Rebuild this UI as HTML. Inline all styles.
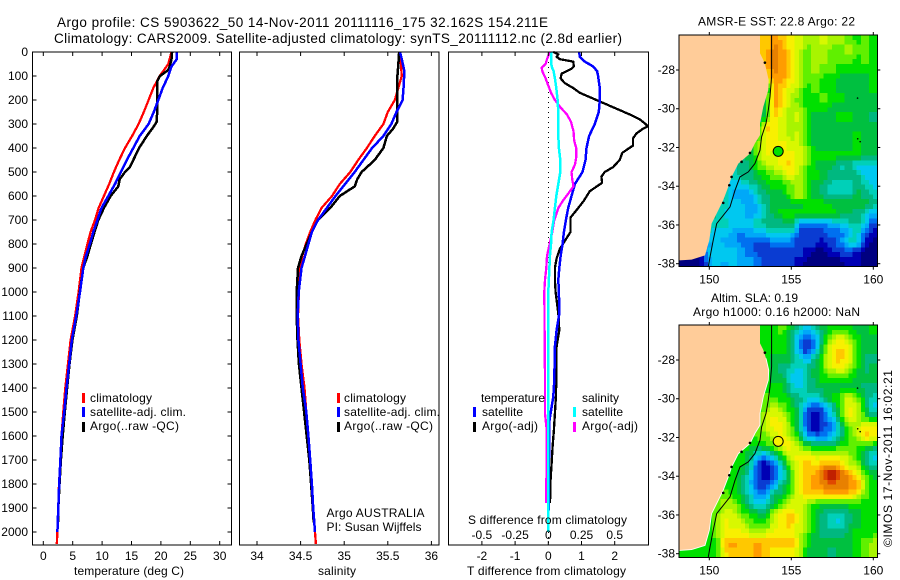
<!DOCTYPE html>
<html lang="en">
<head>
<meta charset="utf-8">
<title>Argo profile chart</title>
<style>
html,body{margin:0;padding:0;background:#fff;}
svg{display:block;}
text{font-family:"Liberation Sans",sans-serif;font-size:12px;fill:#000;}
</style>
</head>
<body>
<svg id="chart" width="900" height="580" viewBox="0 0 900 580" xmlns="http://www.w3.org/2000/svg">
  <text x="57" y="27" style="font-size:13.5px" textLength="491">Argo profile: CS 5903622_50 14-Nov-2011 20111116_175 32.162S 154.211E</text>
  <text x="54" y="43" style="font-size:13.5px" textLength="568">Climatology: CARS2009. Satellite-adjusted climatology: synTS_20111112.nc (2.8d earlier)</text>
  <g id="plots"></g>

  <text x="74" y="575" textLength="110">temperature (deg C)</text>
  <text x="318" y="575" textLength="38">salinity</text>
  <text x="467" y="575" textLength="159">T difference from climatology</text>
  <text x="468" y="524" textLength="159">S difference from climatology</text>

  <g>
    <rect x="82" y="393" width="3" height="10" fill="#ff0000"/>
    <rect x="82" y="407" width="3" height="10" fill="#0000ff"/>
    <rect x="82" y="422" width="3" height="10" fill="#000"/>
    <text x="90" y="402" textLength="62">climatology</text>
    <text x="90" y="416" textLength="96">satellite-adj. clim.</text>
    <text x="90" y="430" textLength="89">Argo(..raw -QC)</text>
  </g>
  <g>
    <rect x="337" y="393" width="3" height="10" fill="#ff0000"/>
    <rect x="337" y="407" width="3" height="10" fill="#0000ff"/>
    <rect x="337" y="422" width="3" height="10" fill="#000"/>
    <text x="344" y="402" textLength="62">climatology</text>
    <text x="344" y="416" textLength="96">satellite-adj. clim.</text>
    <text x="344" y="430" textLength="89">Argo(..raw -QC)</text>
  </g>
  <text x="326.5" y="517" textLength="98">Argo AUSTRALIA</text>
  <text x="326.5" y="531" textLength="95">PI: Susan Wijffels</text>

  <g>
    <text x="481" y="402" textLength="64">temperature</text>
    <rect x="473" y="407" width="3" height="10" fill="#0000ff"/>
    <rect x="473" y="422" width="3" height="10" fill="#000"/>
    <text x="482" y="416" textLength="41">satellite</text>
    <text x="482" y="430" textLength="56">Argo(-adj)</text>
    <text x="582" y="402" textLength="37">salinity</text>
    <rect x="573" y="407" width="3" height="10" fill="#00ffff"/>
    <rect x="573" y="422" width="3" height="10" fill="#ff00ff"/>
    <text x="582" y="416" textLength="41">satellite</text>
    <text x="582" y="430" textLength="56">Argo(-adj)</text>
  </g>

  <text x="698" y="25.5" textLength="157">AMSR-E SST: 22.8 Argo: 22</text>
  <text x="711" y="302" textLength="87">Altim. SLA: 0.19</text>
  <text x="693" y="316" textLength="167">Argo h1000: 0.16 h2000: NaN</text>
  <text transform="translate(892,547) rotate(-90)" textLength="177">©IMOS 17-Nov-2011 16:02:21</text>
</svg>

<script>
/* ---------- axis tick values ---------- */
const depthTicks = [0,100,200,300,400,500,600,700,800,900,1000,1100,1200,1300,1400,1500,1600,1700,1800,1900,2000];
const temperatureTicks = [0,5,10,15,20,25,30];
const salinityTicks = [34,34.5,35,35.5,36];
const salinityTickLabels = ["34","34.5","35","35.5","36"];
const tDiffTicks = [-2,-1,0,1,2];
const sDiffTicks = [-0.5,-0.25,0,0.25,0.5];
const sDiffTickLabels = ["-0.5","-0.25","0","0.25","0.5"];
const lonTicks = [150,155,160];
const latTicks = [28,30,32,34,36,38];

/* ---------- temperature and salinity profiles ---------- */
const climDepths = [0,50,100,150,200,250,300,350,400,450,500,550,600,650,700,750,800,850,900,1000,1100,1200,1300,1400,1500,1600,1700,1800,1900,2000,2050];
const climTemperature = [21.8,21.25,19.8,18.7,17.9,17.1,16.2,15.1,13.9,12.9,12.0,11.2,10.3,9.4,8.8,8.05,7.5,7.0,6.5,6.0,5.4,4.65,4.2,3.75,3.4,3.1,2.9,2.67,2.55,2.4,2.3];
const climSalinity = [35.63,35.65,35.66,35.62,35.58,35.5,35.45,35.35,35.26,35.16,35.07,34.95,34.86,34.74,34.67,34.61,34.56,34.52,34.49,34.48,34.47,34.485,34.51,34.545,34.565,34.59,34.61,34.63,34.645,34.665,34.675];

const satDepths = [0,30,60,100,150,200,250,300,350,400,450,500,550,600,650,700,750,800,850,900,1000,1100,1200,1300,1400,1500,1600,1700,1800,1900,2000];
const satTemperature = [22.7,22.7,21.8,21.25,20.3,19.55,18.8,17.9,16.4,15.3,14.2,13.2,12.2,11.05,9.9,9.2,8.5,7.9,7.25,6.8,6.24,5.6,4.85,4.4,3.95,3.55,3.1,2.9,2.7,2.55,2.4];
const satSalinityDepths = [0,30,80,150,200,250,300,350,400,450,500,550,600,650,700,750,800,850,900,1000,1100,1200,1300,1400,1500,1600,1700,1800,1900,2000];
const satSalinity = [35.64,35.66,35.69,35.68,35.67,35.6,35.54,35.45,35.32,35.22,35.12,35.01,34.9,34.8,34.7,34.63,34.59,34.55,34.51,34.478,34.467,34.475,34.5,34.525,34.565,34.59,34.61,34.63,34.645,34.665];

const argoTempDepths = [0,30,60,75,100,120,150,250,290,310,350,400,450,480,500,530,560,600,650,700,750,800,850,900,1000,1100,1200,1300,1400,1500,1600,1700,1800,1900,1960];
const argoTemperature = [21.9,21.8,21.5,21.25,19.85,19.4,19.4,19.35,19.3,18.8,17.6,16.3,15.3,14.7,13.9,13.0,12.75,11.45,10.3,9.35,8.7,8.1,7.5,6.8,6.2,5.7,4.95,4.45,4.05,3.65,3.3,3.0,2.75,2.55,2.5];
const argoSalDepths = [0,55,100,200,290,320,350,400,450,480,500,530,560,600,650,700,750,800,850,900,1000,1100,1200,1300,1400,1500,1600,1700,1800,1900,1960];
const argoSalinity = [35.63,35.62,35.61,35.61,35.61,35.56,35.49,35.45,35.35,35.26,35.2,35.15,35.12,34.95,34.84,34.7,34.63,34.57,34.51,34.47,34.455,34.455,34.465,34.48,34.51,34.54,34.57,34.6,34.62,34.64,34.65];

/* ---------- differences from climatology ---------- */
const tSatDepths = [0,20,40,60,80,100,150,200,250,300,350,400,450,500,550,600,650,700,750,800,850,900,950,1000,1089,1160,1228,1367,1436,1506,1540,1700,2000];
const tSatDiff = [0.93,0.95,1.1,1.35,1.47,1.5,1.55,1.55,1.52,1.4,1.23,1.15,1.12,1.03,0.8,0.7,0.6,0.53,0.47,0.43,0.37,0.33,0.3,0.32,0.33,0.25,0.2,0.18,0.15,0.07,0.03,0.02,0];
const tArgoDepths = [0,10,20,30,40,60,70,90,110,130,150,170,200,230,260,280,300,310,320,340,360,390,420,450,480,500,520,545,580,620,650,690,720,750,780,820,860,900,950,1000,1089,1160,1228,1367,1436,1506,1575,1644,1714,1783,1880];
const tArgoDiff = [0.15,0.3,0.25,0.35,0.75,0.77,0.7,0.4,0.37,0.5,0.75,0.95,1.45,1.95,2.45,2.75,2.93,3,2.85,2.65,2.55,2.55,2.23,2.15,1.95,1.7,1.6,1.62,1.25,1.07,0.9,0.67,0.67,0.67,0.53,0.35,0.25,0.2,0.2,0.22,0.3,0.33,0.25,0.24,0.23,0.2,0.17,0.13,0.1,0.07,0.05];
const sSatDepths = [0,30,60,80,110,150,200,250,300,350,400,450,500,550,600,650,700,750,800,850,900,1000,1400,1600,2000];
const sSatDiff = [0.025,0.02,0.025,0.04,0.05,0.06,0.07,0.075,0.075,0.075,0.08,0.09,0.09,0.075,0.06,0.05,0.04,0.025,0.02,0.012,0.008,0,0,0,0];
const sArgoDepths = [0,30,50,65,80,110,140,170,200,230,260,290,330,370,400,440,470,500,530,560,590,620,650,700,750,800,850,900,950,1000,1367,1506,1575,1714,1880];
const sArgoDiff = [0.012,-0.01,-0.02,-0.05,-0.045,-0.02,0,0.02,0.05,0.09,0.14,0.17,0.19,0.195,0.21,0.21,0.2,0.175,0.18,0.19,0.15,0.11,0.075,0.045,0.03,0.01,-0.01,-0.015,-0.025,-0.03,-0.025,-0.025,-0.012,-0.012,-0.018];

/* ---------- map colour scale (index 0..19) ---------- */
const colorScale = ["#000080","#0000b4","#0a3cd2","#0070f0","#00a8f8","#00c8f0","#00d0b8","#00b880","#00c040","#00e000","#60f000","#a8f400","#d8f800","#f8f000","#ffc800","#ff9c00","#e88000","#e04800","#c02000","#a01000"];

/* ---------- AMSR-E SST cells (colour index) ---------- */
const sstGrid = [
[8,8,8,8,8,8,8,8,8,14,14,15,14,13,12,11,11,12,11,11,10,9,10,9],
[8,8,8,8,8,8,8,8,8,14,14,16,15,13,12,10,11,11,10,10,11,10,10,9],
[8,8,8,8,8,8,8,8,8,14,14,16,15,13,12,9,11,11,10,10,10,9,10,9],
[8,8,8,8,8,8,8,8,8,13,14,16,15,13,11,10,11,10,10,9,9,9,9,9],
[8,8,8,8,8,8,8,8,8,8,13,15,15,13,12,10,10,9,9,8,8,8,8,9],
[8,8,8,8,8,8,8,8,8,8,7,15,14,12,11,9,10,9,9,8,8,8,8,9],
[8,8,8,8,8,8,8,8,8,7,8,15,14,11,10,9,9,10,9,9,8,8,8,8],
[8,8,8,8,8,8,8,8,8,7,9,15,13,11,11,9,9,9,8,8,8,8,8,8],
[8,8,8,8,8,8,8,8,8,6,9,14,12,11,12,9,8,8,8,9,9,8,8,7],
[8,8,8,8,8,8,8,8,7,8,14,13,12,11,11,9,8,8,8,8,8,8,8,8],
[8,8,8,8,8,8,8,8,7,9,13,13,12,11,12,9,8,8,8,8,8,9,8,8],
[8,8,8,8,8,8,8,8,7,11,13,13,13,12,12,10,8,8,8,8,8,9,8,8],
[8,8,8,8,8,8,8,7,8,10,13,12,13,13,12,10,9,9,9,9,9,9,8,8],
[8,8,8,8,8,8,6,7,7,10,11,12,13,14,12,10,8,8,8,6,7,5,5,5],
[8,8,8,8,8,6,6,7,7,8,9,10,11,13,11,9,9,8,7,7,7,7,5,5],
[8,8,8,8,8,6,5,5,6,7,8,9,9,10,11,9,8,7,6,6,6,7,6,5],
[8,8,8,8,6,7,4,4,4,6,7,8,8,10,12,9,8,7,6,6,6,8,7,6],
[8,8,8,8,6,6,5,5,3,5,7,8,8,8,8,9,9,9,8,8,8,8,8,7],
[8,8,8,6,7,5,5,5,4,4,6,8,9,9,9,9,9,9,10,8,8,7,6,4],
[8,8,8,6,6,6,5,5,5,7,7,7,7,8,4,3,3,3,4,5,6,7,5,2],
[8,8,8,6,5,5,4,3,4,4,5,6,6,6,2,2,2,2,3,3,4,6,3,1],
[0,0,0,4,5,4,4,3,3,2,2,3,3,3,2,2,2,1,2,3,6,6,1,0],
[0,0,0,5,5,6,5,4,3,2,2,2,2,2,2,1,0,0,1,2,2,1,0,0],
[0,0,0,3,5,4,5,4,4,3,2,2,2,2,1,0,0,0,0,0,1,1,0,0]
];

/* ---------- altimeter SLA cells (colour index) ---------- */
const slaGrid = [
[9,9,9,9,9,9,9,9,9,9,9,9,10,8,6,5,6,8,9,9,9,8,8,9],
[9,9,9,9,9,9,9,9,9,9,9,9,9,8,4,1,4,8,11,13,11,9,8,8],
[9,9,9,9,9,9,9,9,9,9,9,9,9,8,4,1,4,9,13,14,13,9,8,8],
[9,9,9,9,9,9,9,9,9,9,9,8,8,8,6,4,7,10,13,14,13,9,7,7],
[9,9,9,9,9,9,9,9,9,9,9,8,7,6,5,7,8,10,12,13,11,9,7,8],
[9,9,9,9,9,9,9,9,9,9,9,8,8,5,4,6,8,9,9,9,9,8,8,8],
[9,9,9,9,9,9,9,9,9,9,9,9,9,6,5,7,7,8,8,8,8,8,7,7],
[9,9,9,9,9,9,9,9,9,9,10,9,9,8,7,6,5,7,9,10,12,10,8,6],
[9,9,9,9,9,9,9,9,9,9,10,12,10,9,7,3,2,3,6,9,13,12,8,5],
[9,9,9,9,9,9,9,9,9,9,12,13,12,9,7,2,0,2,5,9,13,12,9,7],
[9,9,9,9,9,9,9,9,9,10,12,13,13,10,7,2,0,2,3,6,10,11,13,13],
[9,9,9,9,9,9,9,9,9,10,10,12,13,11,9,4,3,3,4,7,9,11,14,13],
[9,9,9,9,9,9,9,9,9,8,9,10,13,13,11,9,8,8,8,9,10,10,9,8],
[9,9,9,9,9,9,9,9,8,5,4,6,9,12,13,13,12,12,12,12,11,9,7,5],
[9,9,9,9,9,9,9,9,7,2,0,2,7,10,13,14,13,15,15,14,12,11,8,6],
[9,9,9,9,9,9,9,8,6,2,0,2,5,9,13,14,15,17,19,17,15,13,10,8],
[9,9,9,9,9,9,9,8,5,2,2,4,7,9,13,14,15,16,16,16,16,15,11,9],
[9,9,9,9,10,10,9,8,6,3,4,7,8,10,12,14,14,14,14,14,14,13,10,9],
[9,9,9,9,10,11,11,9,7,5,5,8,10,12,12,11,9,8,8,8,9,9,9,9],
[9,9,9,9,10,12,12,10,9,8,8,11,13,14,12,10,8,7,6,6,7,8,9,9],
[9,9,9,9,10,13,12,12,10,9,9,12,13,14,12,10,8,7,6,5,7,8,9,9],
[9,9,9,9,10,13,13,13,12,11,12,13,13,13,12,10,8,7,7,7,8,9,9,9],
[9,9,9,9,9,14,15,14,14,15,14,14,14,15,12,9,8,8,8,8,8,9,10,11],
[9,9,9,9,9,13,14,14,14,15,14,13,13,13,12,8,8,8,7,8,8,9,10,11]
];

/* ---------- geography ---------- */
const coastLon = [153.09,153.09,153.29,153.46,153.62,153.60,153.29,153.09,153.09,152.78,152.48,151.77,151.36,151.16,150.85,150.55,150.14,150.0,149.74,148.92,148.17];
const coastLat = [26.19,27.14,27.48,27.91,28.52,29.03,29.90,30.76,31.36,31.79,32.31,32.83,33.52,34.03,34.72,35.24,35.93,36.79,37.57,37.79,37.83];
const shelfLon = [153.80,153.80,153.80,153.70,153.60,153.46,153.19,153.09,152.78,152.38,151.87,151.57,151.26,150.45,150.24,150.04,149.94];
const shelfLat = [26.19,27.14,28.34,29.38,30.07,30.76,31.45,32.14,32.83,33.26,33.52,34.21,35.07,35.93,36.79,37.66,38.17];
const coastBlobLon = [153.39,152.48,151.97,151.36,151.22,150.85,159.04,159.05,159.2];
const coastBlobLat = [27.62,32.28,32.74,33.52,33.95,34.86,29.45,31.55,31.7];
const argoLon = 154.2;
const argoLat = 32.2;

/* ---------- helpers ---------- */
const NS = "http://www.w3.org/2000/svg";
const root = document.getElementById("plots");
function mk(tag, attrs, parent) {
  const el = document.createElementNS(NS, tag);
  for (const k in attrs) el.setAttribute(k, attrs[k]);
  (parent || root).appendChild(el);
  return el;
}

const PTOP = 52, PBOT = 545;
const yDepth = d => PTOP + 0.24 * d;
const xTemp = t => 43.3 + 5.88 * t;
const xSal = s => 257 + 87.2 * (s - 34);
const xTDiff = t => 548.3 + 33.2 * t;
const xSDiff = s => 548.3 + 132.8 * s;

function drawLine(xs, ds, xFn, colour, width, name) {
  const pts = xs.map((v, i) => xFn(v).toFixed(1) + "," + yDepth(ds[i]).toFixed(1)).join(" ");
  const el = mk("polyline", {points: pts, fill: "none", stroke: colour, "stroke-width": width, "stroke-linejoin": "round", "shape-rendering": "crispEdges"});
  
  
}

function drawFrame(x0, x1, xTickPos, rightTicks, name) {
  for (const v of xTickPos) {
    const a = mk("line", {x1: v, x2: v, y1: PTOP, y2: PTOP + 4, stroke: "#000"});
    
    
    const b = mk("line", {x1: v, x2: v, y1: PBOT, y2: PBOT - 4, stroke: "#000"});
    
    
  }
  if (rightTicks) {
    for (const d of depthTicks) {
      const l = mk("line", {x1: x0, x2: x0 + 4, y1: yDepth(d), y2: yDepth(d), stroke: "#000"});
      
      
      const r = mk("line", {x1: x1, x2: x1 - 4, y1: yDepth(d), y2: yDepth(d), stroke: "#000"});
      
      
    }
  }
  const box = mk("rect", {x: x0, y: PTOP, width: x1 - x0, height: PBOT - PTOP, fill: "none", stroke: "#000", "shape-rendering": "crispEdges"});
  
  
}

/* ---------- temperature panel ---------- */
drawLine(climTemperature, climDepths, xTemp, "#ff0000", 2.3, "temperature-climatology-line");
drawLine(argoTemperature, argoTempDepths, xTemp, "#000000", 2.5, "temperature-argo-line");
drawLine(satTemperature, satDepths, xTemp, "#0000ff", 2.5, "temperature-satellite-line");
drawFrame(32.5, 231.5, temperatureTicks.map(xTemp), true, "temperature-panel");
temperatureTicks.forEach(v => {
  const t = mk("text", {x: xTemp(v), y: 560, "text-anchor": "middle"});
  t.textContent = String(v);
  
  
});
depthTicks.forEach(v => {
  const t = mk("text", {x: 28, y: yDepth(v) + 4, "text-anchor": "end"});
  t.textContent = String(v);
  
  
});

/* ---------- salinity panel ---------- */
drawLine(climSalinity, climDepths, xSal, "#ff0000", 2.3, "salinity-climatology-line");
drawLine(argoSalinity, argoSalDepths, xSal, "#000000", 2.5, "salinity-argo-line");
drawLine(satSalinity, satSalinityDepths, xSal, "#0000ff", 2.5, "salinity-satellite-line");
drawFrame(239.5, 439, salinityTicks.map(xSal), false, "salinity-panel");
salinityTicks.forEach((v, i) => {
  const t = mk("text", {x: xSal(v), y: 560, "text-anchor": "middle"});
  t.textContent = salinityTickLabels[i];
  
  
});

/* ---------- difference panel ---------- */
const zero = mk("line", {x1: xTDiff(0), x2: xTDiff(0), y1: PTOP, y2: PBOT, stroke: "#000", "stroke-dasharray": "1 4", "shape-rendering": "crispEdges"});


drawLine(tArgoDiff, tArgoDepths, xTDiff, "#000000", 2.3, "t-difference-argo-line");
drawLine(tSatDiff, tSatDepths, xTDiff, "#0000ff", 2.5, "t-difference-satellite-line");
drawLine(sArgoDiff, sArgoDepths, xSDiff, "#ff00ff", 2.3, "s-difference-argo-line");
drawLine(sSatDiff, sSatDepths, xSDiff, "#00ffff", 2.5, "s-difference-satellite-line");
drawFrame(448.5, 648.5, tDiffTicks.map(xTDiff), false, "difference-panel");
tDiffTicks.forEach(v => {
  const t = mk("text", {x: xTDiff(v), y: 560, "text-anchor": "middle"});
  t.textContent = String(v);
  
  
});
sDiffTicks.forEach((v, i) => {
  const t = mk("text", {x: xSDiff(v), y: 539, "text-anchor": "middle"});
  t.textContent = sDiffTickLabels[i];
  
  
});

/* ---------- maps ---------- */
function sampleGrid(grid, rf, cf) {
  const rows = grid.length, cols = grid[0].length;
  const r = Math.max(0, Math.min(rows - 1, rf)), c = Math.max(0, Math.min(cols - 1, cf));
  const r0 = Math.floor(r), c0 = Math.floor(c);
  const r1 = Math.min(rows - 1, r0 + 1), c1 = Math.min(cols - 1, c0 + 1);
  const a = r - r0, b = c - c0;
  const top = grid[r0][c0] * (1 - b) + grid[r0][c1] * b;
  const bot = grid[r1][c0] * (1 - b) + grid[r1][c1] * b;
  return Math.round(top * (1 - a) + bot * a);
}

function drawMap(grid, top, bottom, circleIndex, whiteCoast, name) {
  const left = 679, right = 877.3;
  const xLon = lon => 709.3 + 16.4 * (lon - 150);
  const yLat = lat => top + 35 + 19.37 * (lat - 28);
  const g = mk("g", {});
  
  
  const sub = 2;
  const rows = grid.length * sub, cols = grid[0].length * sub;
  const cw = (right - left) / cols, ch = (bottom - top) / rows;
  for (let r = 0; r < rows; r++) {
    for (let c = 0; c < cols; c++) {
      const v = sampleGrid(grid, (r + 0.5) / sub - 0.5, (c + 0.5) / sub - 0.5);
      const cell = mk("rect", {x: (left + c * cw).toFixed(2), y: (top + r * ch).toFixed(2), width: (cw + 0.4).toFixed(2), height: (ch + 0.4).toFixed(2), fill: colorScale[v], "shape-rendering": "crispEdges"}, g);
      
      
    }
  }
  const coastPts = coastLon.map((lon, i) => xLon(lon).toFixed(1) + "," + yLat(coastLat[i]).toFixed(1));
  const land = mk("polygon", {points: coastPts.join(" ") + " " + left + "," + yLat(coastLat[coastLat.length - 1]).toFixed(1) + " " + left + "," + top, fill: "#ffcc99"}, g);
  
  
  if (whiteCoast) {
    const wc = mk("polyline", {points: coastPts.slice(3).join(" "), fill: "none", stroke: "#fff", "stroke-width": 0.9}, g);
    
    
  }
  const shelf = mk("polyline", {points: shelfLon.map((lon, i) => xLon(lon).toFixed(1) + "," + yLat(shelfLat[i]).toFixed(1)).join(" "), fill: "none", stroke: "#000", "stroke-width": 1}, g);
  
  
  coastBlobLon.forEach((lon, i) => {
    const b = mk("circle", {cx: xLon(lon), cy: yLat(coastBlobLat[i]), r: i < 6 ? 1.3 : 0.8, fill: "#000"}, g);
    
    
  });
  const argo = mk("circle", {cx: xLon(argoLon), cy: yLat(argoLat), r: 5, fill: colorScale[circleIndex], stroke: "#000", "stroke-width": 1}, g);
  
  
  const frame = mk("rect", {x: left, y: top, width: right - left, height: bottom - top, fill: "none", stroke: "#000", "shape-rendering": "crispEdges"}, g);
  
  
  lonTicks.forEach(v => {
    const a = mk("line", {x1: xLon(v), x2: xLon(v), y1: top - 3, y2: top, stroke: "#000"}, g);
    
    
    const b = mk("line", {x1: xLon(v), x2: xLon(v), y1: bottom, y2: bottom + 3, stroke: "#000"}, g);
    
    
    const t = mk("text", {x: xLon(v), y: bottom + 17, "text-anchor": "middle"}, g);
    t.textContent = String(v);
    
    
  });
  latTicks.forEach(v => {
    const a = mk("line", {x1: left - 3, x2: left, y1: yLat(v), y2: yLat(v), stroke: "#000"}, g);
    
    
    const b = mk("line", {x1: right, x2: right + 3, y1: yLat(v), y2: yLat(v), stroke: "#000"}, g);
    
    
    const t = mk("text", {x: 675, y: yLat(v) + 4, "text-anchor": "end"}, g);
    t.textContent = "-" + v;
    
    
  });
}
drawMap(sstGrid, 35, 266.7, 9, false, "sst-map");
drawMap(slaGrid, 325, 557.3, 13, true, "sla-map");
</script>
</body>
</html>
